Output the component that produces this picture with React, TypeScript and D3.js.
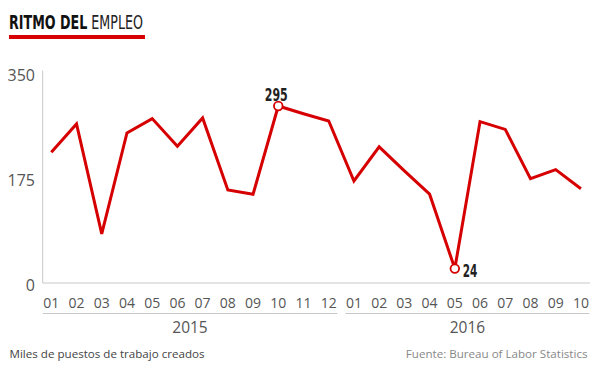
import React from "react";
import * as d3 from "d3";

const months = ["01","02","03","04","05","06","07","08","09","10","11","12","01","02","03","04","05","06","07","08","09","10"];
const years = ["2015", "2016"];
const yearOfPoint = [0,0,0,0,0,0,0,0,0,0,0,0,1,1,1,1,1,1,1,1,1,1];
const jobs = [218, 265, 82, 250, 274, 228, 275, 155, 148, 295, 282, 270, 170, 227, 187, 148, 24, 269, 256, 174, 189, 157];
const yTicks = [0, 175, 350];
const highlights = [9, 16];

const W = 600, H = 371;
const RED = "#d60000";
const SANS = "'Open Sans', 'Noto Sans', sans-serif";
const COND = "'Liberation Sans Narrow', 'DejaVu Sans Condensed', 'Roboto', sans-serif";

export default function App() {
  const idx = months.map((_, i) => i);
  const step = 25.22;
  const x = d3.scaleLinear().domain([0, months.length - 1]).range([51.3, 51.3 + step * (months.length - 1)]);
  const y = d3.scaleLinear().domain([0, 350]).range([283, 73]);
  const line = d3.line<number>().x((i) => x(i)).y((i) => y(jobs[i]));

  const groups = years.map((yr, g) => {
    const ids = idx.filter((i) => yearOfPoint[i] === g);
    const x0 = x(ids[0]) - step / 2;
    const x1 = x(ids[ids.length - 1]) + step / 2;
    return { yr, x0, x1 };
  });

  return (
    <svg width={W} height={H} style={{ position: "absolute", left: 0, top: 0, background: "#fff" }}>
      {/* title */}
      <text x={9} y={29.3} fontFamily={COND} fontSize={19} fill="#111" textLength={134} lengthAdjust="spacingAndGlyphs">
        <tspan fontWeight={700}>RITMO DEL</tspan>
        <tspan fontWeight={400} fill="#222"> EMPLEO</tspan>
      </text>
      <rect x={9} y={35} width={136} height={4} fill={RED} />

      {/* axes */}
      <line x1={42.7} x2={42.7} y1={70.5} y2={283} stroke="#c8c8c8" strokeWidth={1} />
      <line x1={42.7} x2={590} y1={283} y2={283} stroke="#c8c8c8" strokeWidth={1} />
      {yTicks.map((t) => (
        <text key={t} x={35} y={y(t) + 8} textAnchor="end" fontFamily={SANS} fontSize={16} fill="#555">{t}</text>
      ))}
      {months.map((m, i) => (
        <text key={i} x={x(i)} y={308.3} textAnchor="middle" fontFamily={SANS} fontSize={14} fill="#555">{m}</text>
      ))}
      {groups.map((g) => (
        <g key={g.yr}>
          <line x1={g.x0 + 4} x2={g.x1 - 4} y1={313.5} y2={313.5} stroke="#c8c8c8" strokeWidth={1} />
          <text x={(g.x0 + g.x1) / 2} y={332.5} textAnchor="middle" fontFamily={SANS} fontSize={15.5} fill="#555">{g.yr}</text>
        </g>
      ))}

      {/* line */}
      <path d={line(idx) || ""} fill="none" stroke={RED} strokeWidth={3} strokeLinejoin="miter" />
      {highlights.map((i) => (
        <circle key={i} cx={x(i)} cy={y(jobs[i])} r={4.3} fill="#fff" stroke={RED} strokeWidth={1.8} />
      ))}
      <text x={x(9) - 2} y={100.7} textAnchor="middle" fontFamily={COND} fontWeight={700} fontSize={17} fill="#222" textLength={23} lengthAdjust="spacingAndGlyphs">{jobs[9]}</text>
      <text x={462.7} y={276.7} fontFamily={COND} fontWeight={700} fontSize={17} fill="#222" textLength={14.6} lengthAdjust="spacingAndGlyphs">{jobs[16]}</text>

      {/* footer */}
      <text x={9.5} y={357.5} fontFamily={SANS} fontSize={11.6} fill="#444">Miles de puestos de trabajo creados</text>
      <text x={587.5} y={357.5} textAnchor="end" fontFamily={SANS} fontSize={11.6} fill="#888">Fuente: Bureau of Labor Statistics</text>
    </svg>
  );
}
